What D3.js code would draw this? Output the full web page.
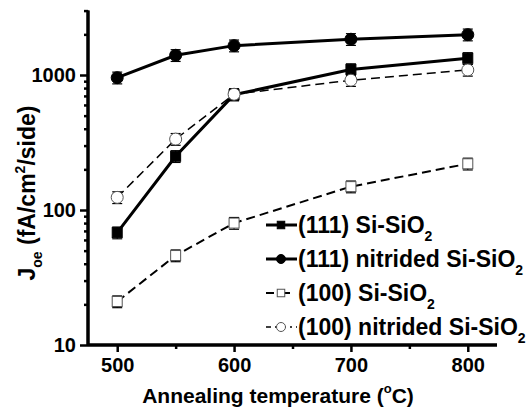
<!DOCTYPE html>
<html>
<head>
<meta charset="utf-8">
<script src="https://cdn.jsdelivr.net/npm/d3@7"></script>
<style>
  body { margin: 0; background: #fff; }
  text { font-family: "Liberation Sans", Arial, sans-serif; font-weight: bold; }
</style>
</head>
<body>
<div class="visContainer"></div>
<script>
// Chart data.
const temps = [500, 550, 600, 700, 800];
const si111 = [68, 250, 715, 1100, 1330];
const nit111 = [955, 1400, 1650, 1840, 1990];
const si100 = [21, 46, 80, 149, 220];
const nit100 = [124, 335, 720, 915, 1090];
const relErr = [0.1, 0.1, 0.1, 0.1, 0.1];
const xTicks = [500, 600, 700, 800];
const xMinor = [550, 650, 750];
const yTicks = [10, 100, 1000];

const series = [
  { name: '(111) Si-SiO', values: si111, marker: 'square', filled: true, dash: null, width: 3 },
  { name: '(111) nitrided Si-SiO', values: nit111, marker: 'circle', filled: true, dash: null, width: 3 },
  { name: '(100) Si-SiO', values: si100, marker: 'square', filled: false, dash: '9,5', width: 2 },
  { name: '(100) nitrided Si-SiO', values: nit100, marker: 'circle', filled: false, dash: '9,5', width: 1.5 }
];

// SVG constants.
const width = 527;
const height = 409;

const svg = d3.select('.visContainer')
              .append('svg')
              .attr('width', width)
              .attr('height', height);

const x = d3.scaleLinear().domain([475, 825]).range([88, 497]);
const y = d3.scaleLog().domain([10, 3000]).range([345, 345 - 135 * Math.log10(300)]);

// Axes.
const xAxis = d3.axisBottom(x).tickValues(xTicks).tickSize(7).tickPadding(6);
const gx = svg.append('g').attr('transform', 'translate(0,345)').call(xAxis);
gx.append('g').call(d3.axisBottom(x).tickValues(xMinor).tickSize(4).tickFormat(''));

const minor = [];
[10, 100, 1000].forEach(d => { for (let k = 2; k <= 9; k++) if (d * k <= 3000) minor.push(d * k); });
const gy = svg.append('g').attr('transform', 'translate(88,0)')
              .call(d3.axisLeft(y).tickValues(yTicks).tickSize(8).tickPadding(4).tickFormat(d3.format('d')));
gy.append('g').call(d3.axisLeft(y).tickValues(minor).tickSize(4).tickFormat(''));

svg.selectAll('.domain').attr('stroke-width', 3);
svg.selectAll('.tick line').attr('stroke-width', 2.5);
svg.selectAll('.tick text').attr('font-size', '20px').attr('fill', '#000');
gx.selectAll('.domain').attr('d', 'M88,0H497');
gy.selectAll('.domain').attr('d', 'M0,345V' + y(3000));

// Lines, error bars and markers.
const line = d3.line().x((d, i) => x(temps[i])).y(d => y(d));
series.forEach(s => {
  svg.append('path')
     .attr('d', line(s.values))
     .attr('fill', 'none')
     .attr('stroke', '#000')
     .attr('stroke-width', s.width)
     .attr('stroke-dasharray', s.dash);

  const g = svg.append('g');
  s.values.forEach((v, i) => {
    const cx = x(temps[i]);
    const lo = y(v * (1 - relErr[i]));
    const hi = y(v * (1 + relErr[i]));
    g.append('line').attr('x1', cx).attr('x2', cx).attr('y1', lo).attr('y2', hi).attr('stroke', '#000').attr('stroke-width', 1.2);
    [lo, hi].forEach(yy => g.append('line').attr('x1', cx - 5).attr('x2', cx + 5).attr('y1', yy).attr('y2', yy)
                           .attr('stroke', '#000').attr('stroke-width', 1.2));
    drawMarker(g, s, cx, y(v), 1);
  });
});

function drawMarker(g, s, cx, cy, scale) {
  const fill = s.filled ? '#000' : '#fff';
  const stroke = s.filled ? '#000' : '#555';
  if (s.marker === 'square') {
    const h = 5 * scale;
    g.append('rect').attr('x', cx - h).attr('y', cy - h).attr('width', 2 * h).attr('height', 2 * h)
     .attr('fill', fill).attr('stroke', stroke).attr('stroke-width', 1);
  } else {
    g.append('circle').attr('cx', cx).attr('cy', cy).attr('r', 6 * scale)
     .attr('fill', fill).attr('stroke', stroke).attr('stroke-width', 1);
  }
}

// Legend.
const legend = svg.append('g');
series.forEach((s, i) => {
  const ly = 225 + i * 34;
  legend.append('line').attr('x1', 266).attr('x2', 297).attr('y1', ly).attr('y2', ly)
        .attr('stroke', '#000').attr('stroke-width', s.width)
        .attr('stroke-dasharray', i === 2 ? '8,8' : (i === 3 ? '5,4,2,4' : null));
  drawMarker(legend, s, 281, ly, 0.75);
  const t = legend.append('text').attr('x', 298).attr('y', ly + 8).attr('font-size', '23px');
  t.append('tspan').text(s.name);
  t.append('tspan').attr('font-size', '14px').attr('dy', 8).text('2');
});

// Axis titles.
const xt = svg.append('text').attr('x', 278).attr('y', 403).attr('text-anchor', 'middle').attr('font-size', '21px');
xt.append('tspan').text('Annealing temperature (');
xt.append('tspan').attr('font-size', '13px').attr('dy', -10).text('o');
xt.append('tspan').attr('dy', 10).text('C)');

const yt = svg.append('text').attr('transform', 'translate(35,193) rotate(-90)').attr('text-anchor', 'middle').attr('font-size', '23px');
yt.append('tspan').text('J');
yt.append('tspan').attr('font-size', '14px').attr('dy', 7).text('oe');
yt.append('tspan').attr('dy', -7).text(' (fA/cm');
yt.append('tspan').attr('font-size', '14px').attr('dy', -10).text('2');
yt.append('tspan').attr('dy', 10).text('/side)');
</script>
</body>
</html>
